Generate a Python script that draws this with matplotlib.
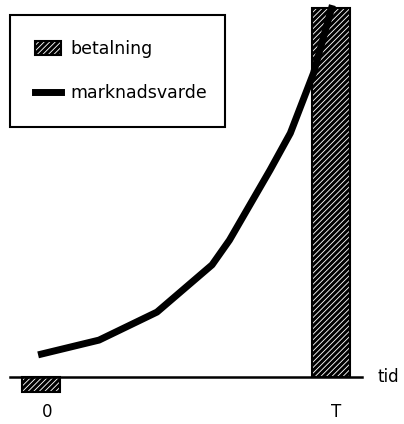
import matplotlib
matplotlib.use("Agg")
import matplotlib.pyplot as plt
from matplotlib.patches import Patch
from matplotlib.lines import Line2D

plt.rcParams['font.family'] = ['DejaVu Sans']
plt.rcParams['hatch.linewidth'] = 2.2

T = 10
# betalning (payments) at time 0 and T
pay_t = [0, T]
pay_v = [-4, 100]
bar_w = 1.3

# marknadsvarde (market value) over time
mv_t = [-0.1, 2.0, 4.0, 5.9, 6.5, 7.9, 8.6, 9.4, 10.05]
mv_v = [6.0, 10.0, 17.6, 30.4, 37.1, 56.1, 66.1, 82.4, 100.8]

tick_pos = [0.2, 10.17]
tick_lab = ['0', 'T']

fig = plt.figure(figsize=(4.04, 4.24), dpi=100)
ax = fig.add_axes([0, 0, 1, 1])
ax.set_xlim(-1.414, 12.52)
ax.set_ylim(-12.74, 102.2)
ax.axis('off')

ax.bar(pay_t, pay_v, width=bar_w, color='white', edgecolor='black',
       hatch='//////', linewidth=1.5, zorder=2)
ax.plot([-1.07, 11.07], [0, 0], color='black', lw=1.8, zorder=3)
ax.plot(mv_t, mv_v, color='black', lw=5, solid_capstyle='butt', zorder=4)

for p, lab in zip(tick_pos, tick_lab):
    ax.text(p, -9.5, lab, ha='center', va='center', fontsize=12)
ax.text(11.6, 0, 'tid', ha='left', va='center', fontsize=12)

handles = [Patch(facecolor='white', edgecolor='black', hatch='//////', linewidth=1.5),
           Line2D([0], [0], color='black', lw=5)]
top = 1 - 15/424
leg = ax.legend(handles, ['betalning', 'marknadsvarde'],
                loc='upper left', bbox_to_anchor=(10/404, top - 0.1, 215/404, 0.1),
                mode='expand', fontsize=12.5, frameon=True, fancybox=False,
                framealpha=1, borderpad=1.45, labelspacing=1.5, handlelength=1.5,
                handleheight=0.9, handletextpad=0.5, borderaxespad=0)
leg.get_frame().set_edgecolor('black')
leg.get_frame().set_linewidth(1.5)

fig.savefig('out.png', dpi=100)
